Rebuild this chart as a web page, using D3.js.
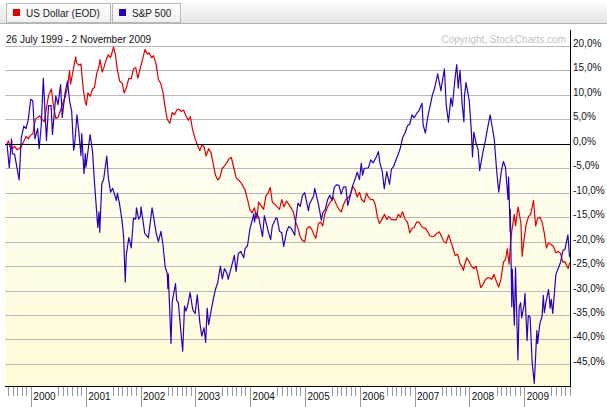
<!DOCTYPE html>
<html><head><meta charset="utf-8">
<script src="https://cdn.jsdelivr.net/npm/d3@7"></script>
<style>body{margin:0;background:#fff}svg{display:block;font-family:"Liberation Sans",Arial,sans-serif}</style>
</head><body><svg id="c" width="607" height="407"></svg>
<script>
// ---- data (percent change since 26 July 1999) ----
const usdDates = ["1999-07-26","1999-08-05","1999-08-16","1999-08-31","1999-09-15","1999-09-30","1999-10-15","1999-10-29","1999-11-15","1999-11-30","1999-12-15","1999-12-31",
"2000-01-14","2000-01-31","2000-02-15","2000-02-29","2000-03-15","2000-03-31","2000-04-14","2000-04-28","2000-05-17","2000-05-31","2000-06-15","2000-06-30","2000-07-14","2000-07-31","2000-08-15","2000-08-31","2000-09-15","2000-09-22","2000-09-29","2000-10-13","2000-10-26","2000-10-31","2000-11-15","2000-11-30","2000-12-15","2000-12-29",
"2001-01-05","2001-01-15","2001-01-31","2001-02-15","2001-02-28","2001-03-15","2001-03-30","2001-04-06","2001-04-20","2001-04-30","2001-05-15","2001-05-31","2001-06-15","2001-06-29","2001-07-05","2001-07-17","2001-07-31","2001-08-15","2001-08-31","2001-09-14","2001-09-28","2001-10-15","2001-10-31","2001-11-15","2001-11-30","2001-12-14","2001-12-31",
"2002-01-15","2002-01-31","2002-02-15","2002-02-28","2002-03-15","2002-03-28","2002-04-15","2002-04-30","2002-05-15","2002-05-31","2002-06-14","2002-06-28","2002-07-15","2002-07-31","2002-08-15","2002-08-30","2002-09-13","2002-09-30","2002-10-15","2002-10-31","2002-11-15","2002-11-29","2002-12-13","2002-12-31",
"2003-01-15","2003-01-31","2003-02-14","2003-02-28","2003-03-14","2003-03-31","2003-04-15","2003-04-30","2003-05-15","2003-05-30","2003-06-13","2003-06-30","2003-07-15","2003-07-31","2003-08-15","2003-08-29","2003-09-15","2003-09-30","2003-10-15","2003-10-31","2003-11-14","2003-11-28","2003-12-15","2003-12-31",
"2004-01-15","2004-01-30","2004-02-15","2004-02-27","2004-03-15","2004-03-31","2004-04-15","2004-04-30","2004-05-14","2004-05-28","2004-06-15","2004-06-30","2004-07-15","2004-07-30","2004-08-13","2004-08-31","2004-09-15","2004-09-30","2004-10-15","2004-10-29","2004-11-15","2004-11-30","2004-12-15","2004-12-31",
"2005-01-14","2005-01-31","2005-02-15","2005-02-28","2005-03-15","2005-03-31","2005-04-15","2005-04-29","2005-05-13","2005-05-31","2005-06-15","2005-06-30","2005-07-08","2005-07-29","2005-08-15","2005-08-31","2005-09-15","2005-09-30","2005-10-14","2005-10-31","2005-11-15","2005-11-30","2005-12-15","2005-12-30",
"2006-01-13","2006-01-31","2006-02-15","2006-02-28","2006-03-15","2006-03-31","2006-04-14","2006-04-28","2006-05-12","2006-05-31","2006-06-15","2006-06-30","2006-07-14","2006-07-31","2006-08-15","2006-08-31","2006-09-15","2006-09-29","2006-10-13","2006-10-31","2006-11-15","2006-11-30","2006-12-15","2006-12-29",
"2007-01-15","2007-01-31","2007-02-15","2007-02-28","2007-03-15","2007-03-30","2007-04-13","2007-04-30","2007-05-15","2007-05-31","2007-06-15","2007-06-29","2007-07-13","2007-07-31","2007-08-16","2007-08-31","2007-09-14","2007-09-28","2007-10-15","2007-10-31","2007-11-15","2007-11-23","2007-11-30","2007-12-15","2007-12-31",
"2008-01-15","2008-01-31","2008-02-15","2008-02-29","2008-03-17","2008-03-31","2008-04-15","2008-04-30","2008-05-15","2008-05-30","2008-06-13","2008-06-30","2008-07-15","2008-07-31","2008-08-15","2008-08-29","2008-09-10","2008-09-22","2008-09-30","2008-10-10","2008-10-27","2008-11-04","2008-11-21","2008-11-28","2008-12-10","2008-12-18","2008-12-31",
"2009-01-15","2009-01-30","2009-02-13","2009-02-27","2009-03-04","2009-03-18","2009-03-31","2009-04-15","2009-04-30","2009-05-15","2009-05-29","2009-06-12","2009-06-30","2009-07-15","2009-07-31","2009-08-14","2009-08-31","2009-09-15","2009-09-30","2009-10-15","2009-10-21","2009-10-30","2009-11-02"];
const usdPct = [0,0.6,-0.8,-1.0,-0.5,-1.2,-1.0,-0.5,0.5,1.5,1.0,1.8,
2.0,5.0,5.4,5.7,5.0,4.5,7.4,9.9,11.2,7.7,5.2,5.4,6.6,8.2,9.4,11.4,14.9,12.2,13.4,15.7,17.8,16.6,16.1,16.3,11.2,8.4,
7.9,10.4,9.7,11.2,11.5,14.4,15.8,17.2,14.7,15.4,17.0,18.2,17.6,19.1,19.8,18.3,15.0,12.8,12.4,10.4,11.4,13.4,13.3,15.3,15.6,13.4,15.6,
17.3,19.3,18.3,18.6,17.6,18.0,16.3,13.1,12.4,10.4,7.4,5.0,4.2,6.4,5.9,6.9,7.1,6.6,6.9,5.7,4.8,5.6,3.0,1.0,
-0.2,-1.4,-0.2,-0.6,-2.5,-1.0,-1.8,-4.0,-6.4,-7.4,-6.9,-5.0,-4.5,-3.8,-3.0,-2.8,-5.0,-6.9,-7.4,-7.9,-8.6,-9.4,-11.4,-13.5,
-14.1,-13.1,-15.3,-11.9,-12.7,-13.4,-10.7,-10.1,-8.9,-11.9,-12.4,-12.9,-13.4,-11.4,-12.9,-11.7,-12.4,-13.1,-13.9,-15.8,-17.3,-19.0,-19.8,-20.0,
-17.3,-16.9,-17.5,-18.5,-19.3,-16.3,-16.0,-16.8,-14.4,-12.9,-12.1,-11.4,-10.9,-12.4,-13.4,-13.9,-12.4,-11.4,-11.1,-10.4,-8.7,-9.4,-10.9,-9.9,
-11.4,-11.9,-10.1,-10.9,-11.4,-11.4,-12.4,-14.9,-16.3,-15.3,-14.4,-15.5,-14.9,-15.5,-15.5,-15.6,-14.4,-15.0,-13.9,-15.5,-16.0,-18.2,-17.3,-17.1,
-16.0,-16.0,-16.8,-17.2,-17.3,-18.0,-18.8,-19.0,-18.8,-18.3,-18.0,-18.9,-19.9,-20.3,-18.6,-20.0,-21.3,-22.8,-22.6,-24.5,-25.2,-25.9,-24.8,-23.3,-24.1,
-25.0,-25.5,-25.0,-26.9,-29.4,-28.8,-27.9,-27.4,-27.4,-27.7,-26.7,-28.2,-29.3,-27.5,-24.2,-23.7,-21.5,-24.6,-21.0,-17.8,-14.4,-16.8,-12.9,-14.1,-16.3,-23.0,-19.5,
-16.3,-14.9,-14.4,-12.4,-11.6,-16.8,-15.3,-15.0,-16.0,-18.3,-21.3,-20.3,-20.6,-21.0,-22.3,-22.0,-22.4,-24.2,-24.1,-25.2,-25.5,-24.4,-24.6];

const spxDates = ["1999-07-26","1999-08-10","1999-08-25","1999-08-31","1999-09-15","1999-09-30","1999-10-15","1999-10-29","1999-11-15","1999-11-30","1999-12-15","1999-12-31",
"2000-01-14","2000-01-28","2000-02-15","2000-02-25","2000-03-10","2000-03-24","2000-04-14","2000-04-28","2000-05-15","2000-05-24","2000-06-15","2000-06-30","2000-07-17","2000-07-28","2000-08-15","2000-09-01","2000-09-15","2000-09-29","2000-10-12","2000-10-18","2000-11-03","2000-11-15","2000-11-30","2000-12-05","2000-12-20","2000-12-29",
"2001-01-02","2001-01-30","2001-02-15","2001-02-28","2001-03-22","2001-03-30","2001-04-04","2001-04-18","2001-04-30","2001-05-21","2001-05-31","2001-06-15","2001-06-29","2001-07-24","2001-07-31","2001-08-15","2001-08-31","2001-09-10","2001-09-21","2001-09-28","2001-10-15","2001-10-31","2001-11-15","2001-11-30","2001-12-05","2001-12-20","2001-12-31",
"2002-01-04","2002-01-29","2002-02-22","2002-03-19","2002-03-28","2002-04-15","2002-04-30","2002-05-17","2002-05-31","2002-06-14","2002-06-28","2002-07-02","2002-07-05","2002-07-23","2002-07-31","2002-08-22","2002-08-30","2002-09-10","2002-09-30","2002-10-09","2002-10-21","2002-10-31","2002-11-15","2002-11-27","2002-12-15","2002-12-31",
"2003-01-14","2003-01-31","2003-02-13","2003-02-28","2003-03-11","2003-03-21","2003-03-31","2003-04-15","2003-04-30","2003-05-15","2003-05-30","2003-06-17","2003-06-30","2003-07-14","2003-07-31","2003-08-08","2003-08-29","2003-09-18","2003-09-30","2003-10-15","2003-10-31","2003-11-20","2003-11-28","2003-12-15","2003-12-31",
"2004-01-26","2004-01-30","2004-02-11","2004-02-27","2004-03-24","2004-03-31","2004-04-05","2004-04-30","2004-05-17","2004-05-28","2004-06-23","2004-06-30","2004-07-15","2004-07-30","2004-08-12","2004-08-31","2004-09-15","2004-09-30","2004-10-25","2004-10-29","2004-11-15","2004-11-30","2004-12-15","2004-12-30",
"2005-01-24","2005-01-31","2005-02-28","2005-03-07","2005-03-31","2005-04-20","2005-04-29","2005-05-15","2005-05-31","2005-06-15","2005-06-30","2005-07-15","2005-07-29","2005-08-15","2005-08-30","2005-09-15","2005-09-30","2005-10-13","2005-10-31","2005-11-15","2005-11-30","2005-12-15","2005-12-30",
"2006-01-11","2006-01-20","2006-01-31","2006-02-15","2006-02-28","2006-03-15","2006-03-31","2006-04-21","2006-05-05","2006-05-15","2006-05-31","2006-06-13","2006-06-30","2006-07-18","2006-07-31","2006-08-15","2006-08-31","2006-09-15","2006-09-29","2006-10-15","2006-10-31","2006-11-15","2006-11-30","2006-12-15","2006-12-29",
"2007-01-15","2007-01-31","2007-02-20","2007-02-27","2007-03-14","2007-03-30","2007-04-15","2007-04-30","2007-05-15","2007-05-31","2007-06-04","2007-06-26","2007-06-29","2007-07-19","2007-07-31","2007-08-15","2007-08-31","2007-09-10","2007-09-28","2007-10-09","2007-10-19","2007-10-31","2007-11-15","2007-11-26","2007-11-30","2007-12-10","2007-12-31",
"2008-01-15","2008-01-22","2008-01-31","2008-02-15","2008-02-29","2008-03-10","2008-03-31","2008-04-15","2008-04-30","2008-05-19","2008-05-30","2008-06-15","2008-06-30","2008-07-15","2008-07-31","2008-08-15","2008-08-29","2008-09-15","2008-09-19","2008-09-29","2008-09-30","2008-10-10","2008-10-13","2008-10-27","2008-11-04","2008-11-20","2008-11-28","2008-12-08","2008-12-15","2008-12-31",
"2009-01-06","2009-01-20","2009-01-28","2009-02-09","2009-02-23","2009-03-09","2009-03-26","2009-03-31","2009-04-15","2009-04-30","2009-05-08","2009-05-15","2009-05-29","2009-06-12","2009-06-23","2009-06-30","2009-07-10","2009-07-31","2009-08-15","2009-08-31","2009-09-15","2009-09-30","2009-10-19","2009-10-30","2009-11-02"];
const spxPct = [0,-4.9,1.0,-2.0,-2.2,-4.8,-7.4,1.1,3.6,3.1,5.0,9.1,
8.8,1.0,3.1,-1.0,3.6,13.4,0.7,7.8,7.8,1.9,9.8,8.0,12.1,5.4,10.2,12.8,8.8,6.7,-1.3,-0.4,5.9,2.7,-2.4,2.1,-6.1,-2.0,
-4.8,1.9,-1.6,-7.9,-17.1,-13.9,-18.1,-8.1,-7.3,-2.5,-6.8,-9.9,-9.1,-11.6,-10.1,-12.5,-15.8,-18.9,-28.3,-22.7,-19.2,-21.3,-15.2,-15.4,-13.1,-15.4,-14.8,
-12.9,-18.3,-19.2,-13.1,-14.8,-18.2,-20.0,-17.9,-20.8,-25.2,-26.5,-29.6,-26.6,-40.8,-32.3,-28.6,-32.0,-32.5,-39.5,-42.4,-33.2,-34.2,-32.5,-30.4,-33.9,-34.7,
-30.9,-36.5,-39.3,-37.6,-40.6,-33.6,-37.0,-34.3,-31.9,-29.8,-28.4,-25.0,-27.6,-25.5,-26.5,-27.7,-25.2,-22.8,-26.1,-22.4,-22.0,-23.3,-21.5,-20.8,-17.4,
-14.3,-16.0,-14.2,-15.0,-19.0,-16.4,-14.7,-17.8,-19.6,-16.8,-15.1,-15.3,-17.9,-18.2,-21.0,-18.0,-16.9,-17.2,-18.7,-16.1,-12.1,-12.8,-10.6,-10.0,
-13.7,-12.3,-10.6,-9.1,-12.3,-15.6,-14.1,-13.5,-11.5,-10.5,-11.6,-8.9,-8.4,-8.5,-10.3,-8.8,-8.8,-12.6,-10.4,-8.5,-7.3,-5.8,-7.3,
-4.0,-6.4,-5.0,-5.0,-4.9,-3.3,-3.9,-2.7,-1.6,-3.9,-5.7,-9.2,-5.7,-8.3,-5.2,-4.6,-3.2,-2.1,-0.8,1.4,2.3,3.7,4.0,5.9,5.3,
6.2,6.8,8.3,3.9,2.2,5.5,7.8,10.0,11.4,13.7,14.3,10.8,11.6,15.3,8.0,4.4,9.4,7.7,13.4,16.2,11.4,15.0,7.8,4.5,9.9,12.5,9.0,
2.4,-2.7,2.4,0.1,-1.2,-5.5,-1.8,0.3,2.9,5.9,3.9,1.0,-5.0,-9.9,-5.9,-3.6,-4.8,-11.4,-6.8,-17.9,-13.4,-33.3,-25.6,-37.1,-25.3,-44.2,-33.5,-32.5,-35.6,-33.0,
-30.6,-40.2,-35.1,-35.4,-44.8,-49.0,-38.2,-40.8,-36.8,-35.2,-31.0,-34.5,-31.8,-29.8,-33.6,-31.8,-34.7,-26.7,-25.5,-24.2,-21.9,-21.5,-18.6,-23.1,-22.6];

const yTicks = [20,15,10,5,0,-5,-10,-15,-20,-25,-30,-35,-40,-45];
const years = [2000,2001,2002,2003,2004,2005,2006,2007,2008,2009];
const seriesNames = ["US Dollar (EOD)","S&P 500"];
const seriesColors = ["#e00000","#2a00c0"];

// ---- drawing ----
const svg = d3.select("#c");
const W = 607, H = 407;
const plot = {l:5, r:570, t:30, b:386};
const parse = d3.timeParse("%Y-%m-%d");
const x = d3.scaleTime().domain([parse("1999-07-26"), parse("2009-11-02")]).range([7, 570]);
const y = d3.scaleLinear().domain([0, -45]).range([143.8, 363.9]);

const defs = svg.append("defs");
const gTop = defs.append("linearGradient").attr("id","topbar").attr("x1",0).attr("x2",0).attr("y1",0).attr("y2",1);
gTop.append("stop").attr("offset","0").attr("stop-color","#ffffff");
gTop.append("stop").attr("offset","1").attr("stop-color","#e4e4e4");
const gBtn = defs.append("linearGradient").attr("id","btn").attr("x1",0).attr("x2",0).attr("y1",0).attr("y2",1);
gBtn.append("stop").attr("offset","0").attr("stop-color","#ffffff");
gBtn.append("stop").attr("offset","1").attr("stop-color","#f0f0f0");
const gBg = defs.append("linearGradient").attr("id","bg").attr("x1",0).attr("x2",0).attr("y1",0).attr("y2",1);
gBg.append("stop").attr("offset","0").attr("stop-color","#fffff4");
gBg.append("stop").attr("offset","1").attr("stop-color","#fffbd6");

svg.append("rect").attr("width",W).attr("height",H).attr("fill","#fff");
svg.append("rect").attr("x",0).attr("y",0).attr("width",W).attr("height",23).attr("fill","url(#topbar)");
svg.append("line").attr("x1",0).attr("x2",W).attr("y1",23.5).attr("y2",23.5).attr("stroke","#b4b4b4");

const btnX = [6, 112], btnW = [104, 68];
seriesNames.forEach((n,i)=>{
  const g = svg.append("g").attr("transform",`translate(${btnX[i]},3)`);
  g.append("rect").attr("x",0.5).attr("y",0.5).attr("width",btnW[i]).attr("height",19).attr("fill","url(#btn)").attr("stroke","#b8b8b8");
  g.append("rect").attr("x",7).attr("y",6).attr("width",7).attr("height",7).attr("fill",seriesColors[i]);
  g.append("text").attr("x",20).attr("y",14).attr("font-size",10).attr("fill","#222").text(n);
});

svg.append("text").attr("x",6).attr("y",43).attr("font-size",10).attr("fill","#111").text("26 July 1999 - 2 November 2009");
svg.append("text").attr("x",566).attr("y",43).attr("font-size",10).attr("fill","#c4c4c4").attr("text-anchor","end").text("Copyright, StockCharts.com");

svg.append("rect").attr("x",plot.l).attr("y",y(0)).attr("width",plot.r-plot.l).attr("height",plot.b-y(0)).attr("fill","url(#bg)");

svg.append("g").selectAll("line").data(yTicks.filter(v=>v!==0)).join("line")
  .attr("x1",plot.l).attr("x2",plot.r).attr("y1",d=>Math.round(y(d))+0.5).attr("y2",d=>Math.round(y(d))+0.5)
  .attr("stroke","#b9b9b9");

svg.append("g").selectAll("text").data(yTicks).join("text")
  .attr("x",573).attr("y",d=>Math.round(y(d))+1).attr("font-size",10).attr("fill","#111")
  .text(d=>d3.format(".1f")(d).replace(".",",").replace("−","-")+"%");

const clip = defs.append("clipPath").attr("id","pc");
clip.append("rect").attr("x",plot.l).attr("y",plot.t).attr("width",plot.r-plot.l).attr("height",plot.b-plot.t);

const series = [[usdDates, usdPct],[spxDates, spxPct]];
series.forEach(([ds, vs], i)=>{
  const line = d3.line().x((d,k)=>x(parse(ds[k]))).y(d=>y(d));
  svg.append("path").datum(vs).attr("d",line).attr("clip-path","url(#pc)").attr("fill","none")
    .attr("stroke",seriesColors[i]).attr("stroke-width",1.2).attr("stroke-linejoin","round");
});

svg.append("line").attr("x1",plot.l).attr("x2",plot.r).attr("y1",Math.round(y(0))+0.5).attr("y2",Math.round(y(0))+0.5).attr("stroke","#000");
svg.append("line").attr("x1",plot.r+0.5).attr("x2",plot.r+0.5).attr("y1",plot.t).attr("y2",plot.b).attr("stroke","#000");
svg.append("line").attr("x1",plot.l).attr("x2",plot.r+1).attr("y1",plot.b+0.5).attr("y2",plot.b+0.5).attr("stroke","#000");

const monthsTicks = d3.timeMonth.range(parse("1999-08-01"), parse("2009-11-03"));
const xa = svg.append("g");
monthsTicks.forEach(d=>{
  const m = d.getMonth();
  const xx = Math.round(x(d))+0.5;
  if (m===0) {
    xa.append("line").attr("x1",xx).attr("x2",xx).attr("y1",plot.b+1).attr("y2",H).attr("stroke","#999");
  } else if (m>=6 || d.getFullYear()===1999) {
    xa.append("line").attr("x1",xx).attr("x2",xx).attr("y1",plot.b+1).attr("y2",plot.b+10).attr("stroke","#999");
  }
});
xa.selectAll("text").data(years).join("text")
  .attr("x",d=>x(new Date(d,0,1))+2.5).attr("y",400).attr("font-size",10).attr("fill","#111").text(d=>d);
</script></body></html>
